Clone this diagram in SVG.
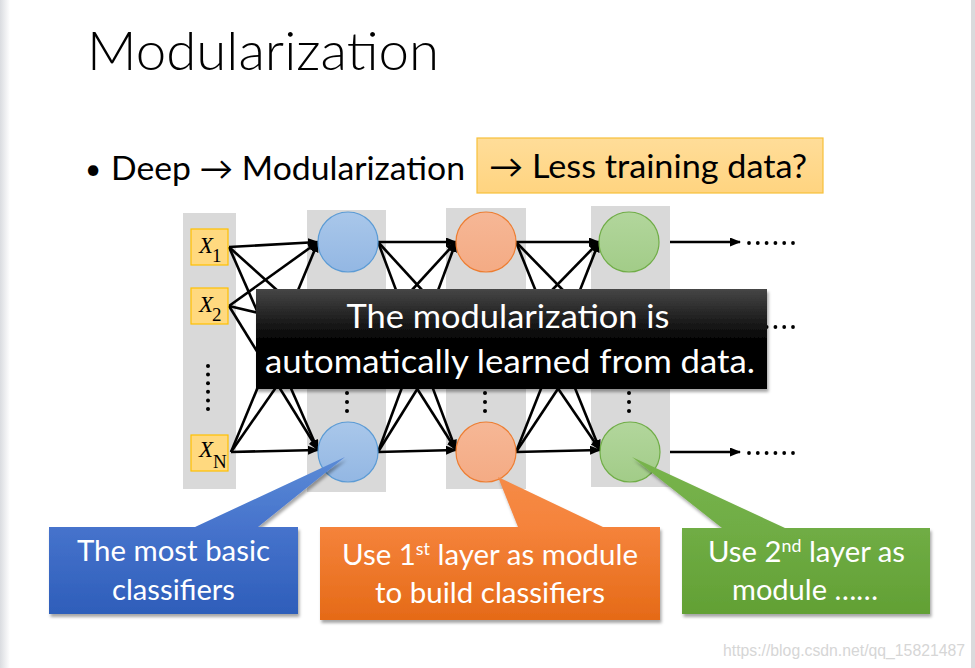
<svg xmlns="http://www.w3.org/2000/svg" width="975" height="668" viewBox="0 0 975 668">
<defs>
<style>
.col{fill:#D9D9D9}
.inbox{fill:#FFD97F;stroke:#FFC000;stroke-width:1.2}
.vx{font-family:"Liberation Serif",serif;font-style:italic;font-size:23px;fill:#000}
.vs{font-family:"Liberation Serif",serif;font-size:19px;fill:#000}
.nb{fill:url(#gBlue);stroke:#5B9BD5;stroke-width:1.2}
.no{fill:url(#gOr);stroke:#ED7D31;stroke-width:1.2}
.ng{fill:url(#gGr);stroke:#70AD47;stroke-width:1.2}
.e{stroke:#000;stroke-width:2.6;fill:none;marker-end:url(#ah)}
.dot{fill:#000}
.sans{font-family:Lato,"Open Sans","Liberation Sans",sans-serif}
.ct{font-family:Lato,"Open Sans","Liberation Sans",sans-serif;font-size:28px;fill:#fff}
.sup{font-size:17px}
</style>
<marker id="ah" markerUnits="userSpaceOnUse" markerWidth="11" markerHeight="9" refX="10" refY="4.5" orient="auto">
<path d="M0,0 L11,4.5 L0,9 Z" fill="#000"/>
</marker>
<linearGradient id="gLeft" x1="0" y1="0" x2="1" y2="0">
<stop offset="0" stop-color="#DADCE0"/><stop offset="1" stop-color="#FFFFFF"/>
</linearGradient>
<linearGradient id="gBlue" x1="0" y1="0" x2="0" y2="1">
<stop offset="0" stop-color="#A9C7EA"/><stop offset="1" stop-color="#93B7E3"/>
</linearGradient>
<linearGradient id="gOr" x1="0" y1="0" x2="0" y2="1">
<stop offset="0" stop-color="#F6B796"/><stop offset="1" stop-color="#F4AB84"/>
</linearGradient>
<linearGradient id="gGr" x1="0" y1="0" x2="0" y2="1">
<stop offset="0" stop-color="#B2D69C"/><stop offset="1" stop-color="#A2CC88"/>
</linearGradient>
<linearGradient id="gBlack" x1="0" y1="0" x2="0" y2="1">
<stop offset="0" stop-color="#464646"/><stop offset="0.5" stop-color="#050505"/><stop offset="1" stop-color="#000"/>
</linearGradient>
<linearGradient id="cBlue" x1="0" y1="0" x2="0" y2="1">
<stop offset="0" stop-color="#5B8BD6"/><stop offset="0.45" stop-color="#4673CC"/><stop offset="1" stop-color="#2E5EBA"/>
</linearGradient>
<linearGradient id="cOr" x1="0" y1="0" x2="0" y2="1">
<stop offset="0" stop-color="#F58B47"/><stop offset="0.35" stop-color="#F5833B"/><stop offset="1" stop-color="#E56A17"/>
</linearGradient>
<linearGradient id="cGr" x1="0" y1="0" x2="0" y2="1">
<stop offset="0" stop-color="#78B44C"/><stop offset="0.45" stop-color="#70AD45"/><stop offset="1" stop-color="#62A034"/>
</linearGradient>
<linearGradient id="gHi" x1="0" y1="0" x2="0" y2="1">
<stop offset="0" stop-color="#FFDD99"/><stop offset="1" stop-color="#FFD480"/>
</linearGradient>
<filter id="sh" x="-10%" y="-10%" width="125%" height="130%">
<feDropShadow dx="1.5" dy="3" stdDeviation="1.8" flood-color="#000" flood-opacity="0.35"/>
</filter>
</defs>

<rect x="0" y="0" width="975" height="668" fill="#fff"/>
<rect x="0" y="0" width="10" height="668" fill="url(#gLeft)"/>
<rect x="971" y="0" width="4" height="668" fill="#D9DADC"/>

<text id="title" class="sans" x="87" y="70" font-size="54" font-weight="300" textLength="352" lengthAdjust="spacingAndGlyphs" fill="#000">Modularization</text>

<g id="bullet">
<text class="sans" x="85" y="179" font-size="28" fill="#000">•</text>
<text class="sans" x="111" y="180" font-size="32" fill="#000" textLength="354" lengthAdjust="spacingAndGlyphs">Deep → Modularization</text>
</g>
<g id="highlight">
<rect x="477" y="138" width="346" height="55" fill="url(#gHi)" stroke="#F7C03A" stroke-width="1.2"/>
<text class="sans" x="489" y="178" font-size="32" fill="#000" textLength="318" lengthAdjust="spacingAndGlyphs">→ Less training data?</text>
</g>

<g id="columns">
<rect class="col" x="183" y="213" width="53" height="276"/>
<rect class="col" x="307" y="210" width="79" height="282"/>
<rect class="col" x="446" y="208" width="80" height="281"/>
<rect class="col" x="591" y="206" width="79" height="281"/>
</g>

<g id="connectors">
<path class="e" d="M229,247 L318,242"/>
<path class="e" d="M229,247 L318,327"/>
<path class="e" d="M229,247 L318,450"/>
<path class="e" d="M229,306 L318,242"/>
<path class="e" d="M229,306 L318,327"/>
<path class="e" d="M229,306 L318,450"/>
<path class="e" d="M231,452 L318,242"/>
<path class="e" d="M231,452 L318,327"/>
<path class="e" d="M231,452 L318,450"/>
<path class="e" d="M378,242 L456,242"/>
<path class="e" d="M378,242 L456,327"/>
<path class="e" d="M378,242 L456,450"/>
<path class="e" d="M378,327 L456,242"/>
<path class="e" d="M378,327 L456,327"/>
<path class="e" d="M378,327 L456,450"/>
<path class="e" d="M378,452 L456,242"/>
<path class="e" d="M378,452 L456,327"/>
<path class="e" d="M378,452 L456,450"/>
<path class="e" d="M516,242 L599,242"/>
<path class="e" d="M516,242 L599,327"/>
<path class="e" d="M516,242 L600,450"/>
<path class="e" d="M516,327 L599,242"/>
<path class="e" d="M516,327 L599,327"/>
<path class="e" d="M516,327 L600,450"/>
<path class="e" d="M516,452 L599,242"/>
<path class="e" d="M516,452 L599,327"/>
<path class="e" d="M516,452 L600,450"/>
<path class="e" d="M670,242 L740,242"/>
<path class="e" d="M670,327 L740,327"/>
<path class="e" d="M670,452 L740,452"/>
</g>

<g id="x1">
<rect class="inbox" x="191" y="229" width="37" height="36"/>
<text class="vx" x="199" y="253">X</text><text class="vs" x="212" y="262">1</text>
</g>
<g id="x2">
<rect class="inbox" x="191" y="288" width="37" height="36"/>
<text class="vx" x="199" y="312">X</text><text class="vs" x="212" y="321">2</text>
</g>
<g id="xn">
<rect class="inbox" x="191" y="435" width="37" height="36"/>
<text class="vx" x="199" y="457">X</text><text class="vs" x="213" y="468" font-size="18">N</text>
</g>
<g id="input-dots">
<circle class="dot" cx="208" cy="366" r="2"/><circle class="dot" cx="208" cy="374.6" r="2"/>
<circle class="dot" cx="208" cy="383.2" r="2"/><circle class="dot" cx="208" cy="391.8" r="2"/>
<circle class="dot" cx="208" cy="400.4" r="2"/><circle class="dot" cx="208" cy="409" r="2"/>
</g>

<g id="l1-top"><circle class="nb" cx="348" cy="242" r="30"/></g>
<g id="l1-mid"><circle class="nb" cx="348" cy="327" r="30"/></g>
<g id="l1-bottom"><circle class="nb" cx="348" cy="452" r="30"/></g>
<g id="l2-top"><circle class="no" cx="486" cy="242" r="30"/></g>
<g id="l2-mid"><circle class="no" cx="486" cy="327" r="30"/></g>
<g id="l2-bottom"><circle class="no" cx="486" cy="452" r="30"/></g>
<g id="l3-top"><circle class="ng" cx="629" cy="242" r="30"/></g>
<g id="l3-mid"><circle class="ng" cx="629" cy="327" r="30"/></g>
<g id="l3-bottom"><circle class="ng" cx="630" cy="452" r="30"/></g>

<g id="layer-dots">
<circle class="dot" cx="347" cy="393" r="2"/><circle class="dot" cx="347" cy="402" r="2"/><circle class="dot" cx="347" cy="411" r="2"/>
<circle class="dot" cx="485" cy="393" r="2"/><circle class="dot" cx="485" cy="402" r="2"/><circle class="dot" cx="485" cy="411" r="2"/>
<circle class="dot" cx="629" cy="393" r="2"/><circle class="dot" cx="629" cy="402" r="2"/><circle class="dot" cx="629" cy="411" r="2"/>
</g>

<g id="out-dots">
<circle class="dot" cx="749" cy="243" r="1.9"/><circle class="dot" cx="757.8" cy="243" r="1.9"/><circle class="dot" cx="766.6" cy="243" r="1.9"/>
<circle class="dot" cx="775.4" cy="243" r="1.9"/><circle class="dot" cx="784.2" cy="243" r="1.9"/><circle class="dot" cx="793" cy="243" r="1.9"/>
<circle class="dot" cx="749" cy="327" r="1.9"/><circle class="dot" cx="757.8" cy="327" r="1.9"/><circle class="dot" cx="766.6" cy="327" r="1.9"/>
<circle class="dot" cx="775.4" cy="327" r="1.9"/><circle class="dot" cx="784.2" cy="327" r="1.9"/><circle class="dot" cx="793" cy="327" r="1.9"/>
<circle class="dot" cx="749" cy="453" r="1.9"/><circle class="dot" cx="757.8" cy="453" r="1.9"/><circle class="dot" cx="766.6" cy="453" r="1.9"/>
<circle class="dot" cx="775.4" cy="453" r="1.9"/><circle class="dot" cx="784.2" cy="453" r="1.9"/><circle class="dot" cx="793" cy="453" r="1.9"/>
</g>

<g id="note-box">
<rect x="256" y="289" width="511" height="100" fill="url(#gBlack)" filter="url(#sh)"/>
<text class="sans" x="508" y="328" font-size="32" fill="#fff" text-anchor="middle" textLength="323" lengthAdjust="spacingAndGlyphs">The modularization is</text>
<text class="sans" x="510" y="373" font-size="32" fill="#fff" text-anchor="middle" textLength="490" lengthAdjust="spacingAndGlyphs">automatically learned from data.</text>
</g>

<g id="callout-blue">
<path d="M49,527 L195,527 L345,457 L258,527 L298,527 L298,614 L49,614 Z" fill="url(#cBlue)" filter="url(#sh)"/>
<text class="ct" x="77" y="561" textLength="193" lengthAdjust="spacingAndGlyphs">The most basic</text>
<text class="ct" x="112" y="600" textLength="123" lengthAdjust="spacingAndGlyphs">classifiers</text>
</g>

<g id="callout-orange">
<path d="M320,527 L518,527 L498,477 L603,527 L660,527 L660,620 L320,620 Z" fill="url(#cOr)" filter="url(#sh)"/>
<text class="ct" x="342" y="565" textLength="296" lengthAdjust="spacingAndGlyphs">Use 1<tspan class="sup" dy="-10">st</tspan><tspan dy="10"> layer as module</tspan></text>
<text class="ct" x="375" y="603" textLength="230" lengthAdjust="spacingAndGlyphs">to build classifiers</text>
</g>

<g id="callout-green">
<path d="M682,528 L722,528 L632,457 L785,528 L930,528 L930,614 L682,614 Z" fill="url(#cGr)" filter="url(#sh)"/>
<text class="ct" x="708" y="562" textLength="197" lengthAdjust="spacingAndGlyphs">Use 2<tspan class="sup" dy="-10">nd</tspan><tspan dy="10"> layer as</tspan></text>
<text class="ct" x="732" y="600" textLength="146" lengthAdjust="spacingAndGlyphs">module ……</text>
</g>

<text id="watermark" x="723" y="656" font-family="'Liberation Sans',Arial,sans-serif" font-size="16" fill="#D6D6D6" textLength="242" lengthAdjust="spacingAndGlyphs">https://blog.csdn.net/qq_15821487</text>
</svg>
